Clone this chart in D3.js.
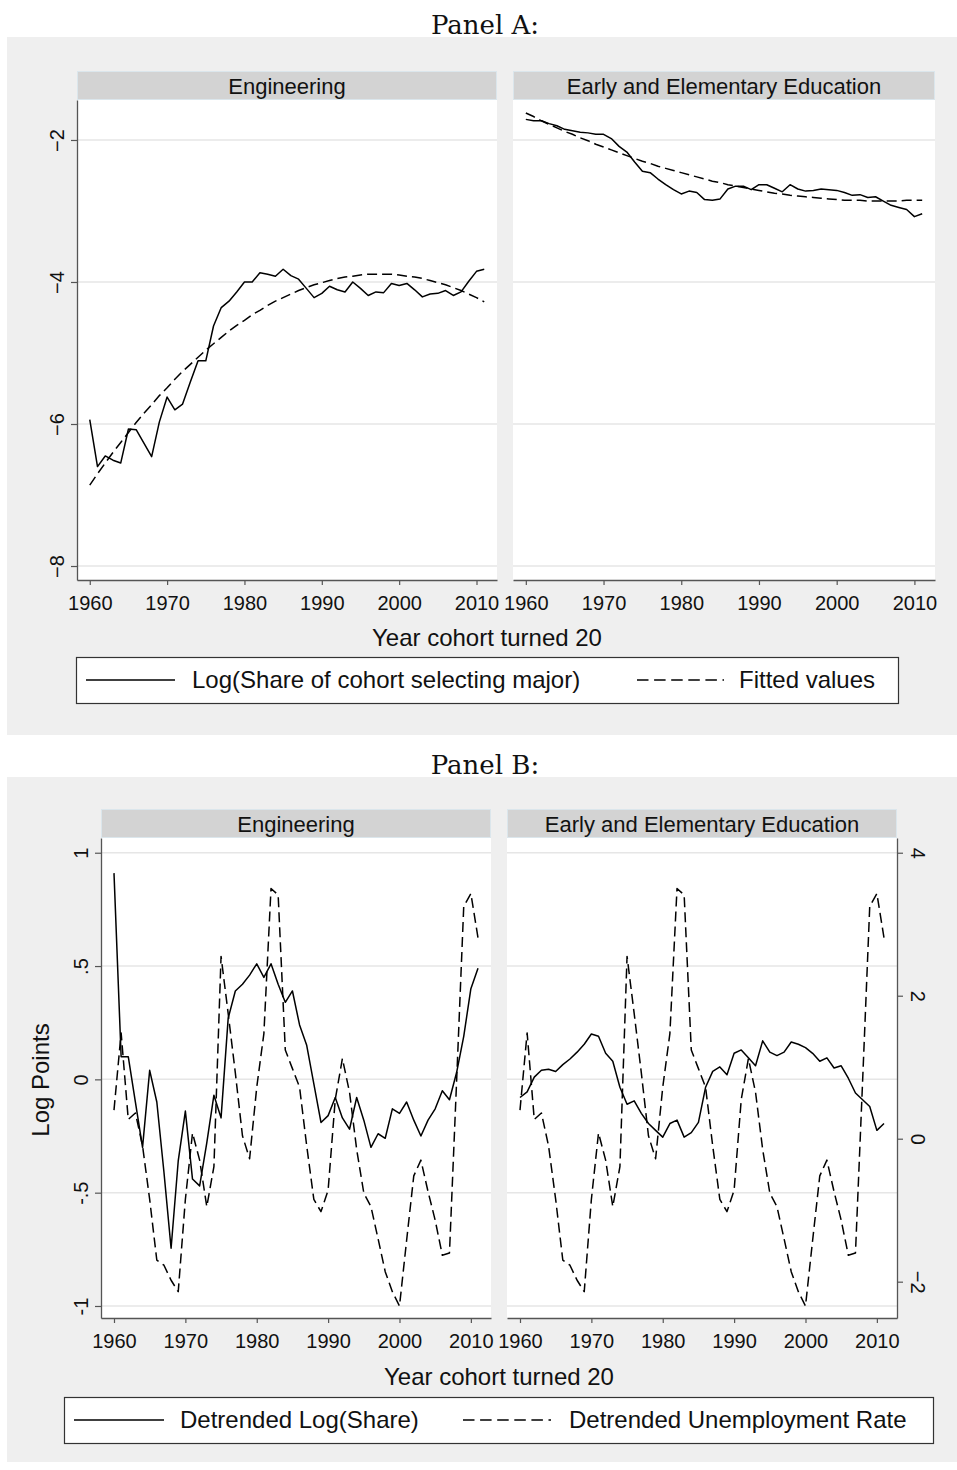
<!DOCTYPE html>
<html>
<head>
<meta charset="utf-8">
<script src="https://cdn.jsdelivr.net/npm/d3@7"></script>
<style>
  body { margin: 0; background: #fff; }
  svg { display: block; }
</style>
</head>
<body>
<div id="chart"></div>
<script>
// ---- data ----
const firstYear = 1960, lastYear = 2011;
const years = d3.range(firstYear, lastYear + 1);

const xTicks = [1960, 1970, 1980, 1990, 2000, 2010];
const yTicksA = [-2, -4, -6, -8];
const yTicksB = [1, 0.5, 0, -0.5, -1];
const yTicksB2 = [4, 2, 0, -2];

// Panel A: log share of cohort selecting major + fitted values
const engLogShare = [
  -5.94, -6.60, -6.45, -6.51, -6.55, -6.07, -6.08, -6.27, -6.46, -5.97,
  -5.62, -5.80, -5.72, -5.41, -5.11, -5.11, -4.62, -4.36, -4.27, -4.14,
  -4.00, -4.00, -3.87, -3.89, -3.92, -3.82, -3.91, -3.96, -4.09, -4.22,
  -4.16, -4.06, -4.11, -4.14, -4.00, -4.09, -4.19, -4.14, -4.15, -4.02,
  -4.05, -4.02, -4.11, -4.21, -4.17, -4.16, -4.12, -4.19, -4.14, -3.99,
  -3.85, -3.82];
const engFitted = [
  -6.86, -6.70, -6.55, -6.40, -6.26, -6.12, -5.98, -5.85, -5.73, -5.60,
  -5.49, -5.37, -5.26, -5.16, -5.06, -4.96, -4.87, -4.78, -4.69, -4.61,
  -4.54, -4.46, -4.40, -4.33, -4.27, -4.22, -4.17, -4.12, -4.08, -4.04,
  -4.01, -3.98, -3.95, -3.93, -3.92, -3.90, -3.89, -3.89, -3.89, -3.89,
  -3.90, -3.92, -3.93, -3.95, -3.98, -4.01, -4.04, -4.08, -4.12, -4.17,
  -4.22, -4.28];
const eduLogShare = [
  -1.71, -1.73, -1.73, -1.77, -1.80, -1.85, -1.87, -1.89, -1.90, -1.92,
  -1.92, -1.98, -2.09, -2.17, -2.31, -2.44, -2.46, -2.55, -2.63, -2.70,
  -2.76, -2.72, -2.74, -2.84, -2.85, -2.83, -2.69, -2.65, -2.65, -2.70,
  -2.63, -2.63, -2.68, -2.73, -2.63, -2.69, -2.72, -2.71, -2.69, -2.70,
  -2.71, -2.74, -2.78, -2.77, -2.81, -2.80, -2.86, -2.92, -2.95, -2.98,
  -3.08, -3.04];
const eduFitted = [
  -1.62, -1.67, -1.73, -1.78, -1.83, -1.88, -1.92, -1.97, -2.01, -2.06,
  -2.10, -2.14, -2.18, -2.22, -2.26, -2.30, -2.33, -2.37, -2.40, -2.43,
  -2.46, -2.49, -2.52, -2.55, -2.58, -2.60, -2.63, -2.65, -2.67, -2.69,
  -2.71, -2.73, -2.75, -2.76, -2.78, -2.79, -2.80, -2.81, -2.82, -2.83,
  -2.84, -2.85, -2.85, -2.85, -2.86, -2.86, -2.86, -2.86, -2.86, -2.85,
  -2.85, -2.85];

// Panel B: detrended log share (left axis) and detrended unemployment (right axis)
const engDetrended = [
  0.91, 0.10, 0.10, -0.10, -0.30, 0.04, -0.10, -0.41, -0.745, -0.36,
  -0.14, -0.44, -0.47, -0.28, -0.07, -0.17, 0.27, 0.39, 0.42, 0.46,
  0.51, 0.45, 0.51, 0.42, 0.34, 0.39, 0.24, 0.15, -0.02, -0.19,
  -0.16, -0.08, -0.17, -0.22, -0.08, -0.18, -0.30, -0.24, -0.26, -0.13,
  -0.15, -0.10, -0.18, -0.25, -0.18, -0.13, -0.05, -0.09, 0.03, 0.19,
  0.40, 0.49];
const eduDetrended = [
  -0.08, -0.055, 0.01, 0.04, 0.045, 0.035, 0.065, 0.09, 0.12, 0.155,
  0.20, 0.19, 0.115, 0.08, -0.035, -0.11, -0.095, -0.15, -0.195, -0.225,
  -0.255, -0.195, -0.18, -0.255, -0.235, -0.19, -0.035, 0.035, 0.055, 0.02,
  0.115, 0.13, 0.095, 0.06, 0.17, 0.12, 0.105, 0.12, 0.165, 0.155,
  0.14, 0.115, 0.08, 0.095, 0.05, 0.06, 0.005, -0.06, -0.09, -0.12,
  -0.225, -0.195];
const unempDetrended = [
  0.40, 1.48, 0.27, 0.36, -0.10, -0.85, -1.70, -1.77, -1.98, -2.14,
  -0.85, 0.08, -0.30, -0.95, -0.39, 2.55, 1.75, 0.92, 0.04, -0.28,
  0.72, 1.47, 3.50, 3.41, 1.24, 0.98, 0.72, -0.10, -0.85, -1.02,
  -0.72, 0.55, 1.12, 0.65, -0.15, -0.76, -0.95, -1.40, -1.86, -2.14,
  -2.34, -1.42, -0.52, -0.30, -0.74, -1.14, -1.63, -1.60, 0.80, 3.25,
  3.43, 2.81];

// ---- layout / style ----
const W = 957, H = 1470;
const SANS = '"Liberation Sans", Arial, Helvetica, sans-serif';
const SERIF = '"DejaVu Serif", "Liberation Serif", serif';
const C = {
  bg: '#efefef',
  strip: '#d3d3d3',
  stripLine: '#dbe6ec',
  grid: '#e6e6e6',
  axis: '#555',
  ink: '#111'
};
const SOLID_W = 1.5;
const DASH = '10,5';

const svg = d3.select('#chart').append('svg')
  .attr('width', W)
  .attr('height', H)
  .style('font-family', SANS);

svg.append('rect').attr('width', W).attr('height', H).attr('fill', '#fff');

// Stata-like ".5" / "-.5" labels
const stataFmt = d => String(d).replace(/^(-?)0\./, '$1.');

function styleAxis(sel) {
  sel.attr('font-size', null).attr('font-family', null);
  sel.select('.domain').attr('stroke', C.axis).attr('stroke-width', 1.3);
  sel.selectAll('.tick line').attr('stroke', C.axis).attr('stroke-width', 1.2);
  sel.selectAll('.tick text').attr('font-size', 20).attr('fill', C.ink);
}

function drawFacet(parent, f) {
  const g = parent.append('g');

  // plot region
  g.append('rect')
    .attr('x', f.x0).attr('y', f.top)
    .attr('width', f.x1 - f.x0).attr('height', f.bottom - f.top)
    .attr('fill', '#fff');

  // strip with facet title
  g.append('rect')
    .attr('x', f.x0 + 0.5).attr('y', f.stripTop + 0.5)
    .attr('width', f.x1 - f.x0 - 1).attr('height', f.top - f.stripTop - 1)
    .attr('fill', C.strip).attr('stroke', C.stripLine);
  g.append('text')
    .attr('x', (f.x0 + f.x1) / 2)
    .attr('y', (f.stripTop + f.top) / 2 + 8)
    .attr('text-anchor', 'middle')
    .attr('font-size', 22)
    .attr('fill', C.ink)
    .text(f.label);

  // gridlines
  g.append('g').selectAll('line')
    .data(f.gridTicks)
    .join('line')
    .attr('x1', f.x0).attr('x2', f.x1)
    .attr('y1', d => f.gridScale(d)).attr('y2', d => f.gridScale(d))
    .attr('stroke', C.grid).attr('stroke-width', 1.5);

  // series
  f.series.forEach(s => {
    const line = d3.line()
      .x((d, i) => f.x(years[i]))
      .y(d => s.y(d));
    g.append('path')
      .datum(s.values)
      .attr('d', line)
      .attr('fill', 'none')
      .attr('stroke', '#000')
      .attr('stroke-width', SOLID_W)
      .attr('stroke-linejoin', 'round')
      .attr('stroke-dasharray', s.dashed ? DASH : null);
  });

  // x axis
  g.append('g')
    .attr('transform', `translate(0,${f.bottom})`)
    .call(d3.axisBottom(f.x).tickValues(xTicks).tickFormat(d3.format('d'))
      .tickSize(5).tickPadding(11).tickSizeOuter(0))
    .call(styleAxis);

  // left y axis (optional)
  if (f.left) {
    const ax = g.append('g')
      .attr('transform', `translate(${f.x0},0)`)
      .call(d3.axisLeft(f.left.scale).tickValues(f.left.ticks).tickFormat(f.left.fmt)
        .tickSize(6).tickSizeOuter(0))
      .call(styleAxis);
    ax.selectAll('.tick text')
      .attr('x', 0).attr('y', 0).attr('dy', 0)
      .attr('text-anchor', 'middle')
      .attr('transform', 'translate(-13,0) rotate(-90)');
  }

  // right y axis (optional)
  if (f.right) {
    const ax = g.append('g')
      .attr('transform', `translate(${f.x1},0)`)
      .call(d3.axisRight(f.right.scale).tickValues(f.right.ticks).tickFormat(f.right.fmt)
        .tickSize(6).tickSizeOuter(0))
      .call(styleAxis);
    ax.selectAll('.tick text')
      .attr('x', 0).attr('y', 0).attr('dy', 0)
      .attr('text-anchor', 'middle')
      .attr('transform', 'translate(14,0) rotate(90)');
  }
  return g;
}

function drawLegend(parent, box, items) {
  const g = parent.append('g');
  g.append('rect')
    .attr('x', box.x0 + 0.5).attr('y', box.y0 + 0.5)
    .attr('width', box.x1 - box.x0).attr('height', box.y1 - box.y0)
    .attr('fill', '#fff').attr('stroke', '#333').attr('stroke-width', 1.2);
  const cy = (box.y0 + box.y1) / 2;
  items.forEach(it => {
    g.append('line')
      .attr('x1', it.lx0).attr('x2', it.lx1)
      .attr('y1', cy).attr('y2', cy)
      .attr('stroke', '#000').attr('stroke-width', SOLID_W)
      .attr('stroke-dasharray', it.dashed ? '11.5,5.6' : null);
    g.append('text')
      .attr('x', it.tx).attr('y', cy + 8)
      .attr('font-size', 24).attr('fill', C.ink)
      .text(it.text);
  });
}

function panelTitle(text, y) {
  svg.append('text')
    .attr('x', 485).attr('y', y)
    .attr('text-anchor', 'middle')
    .attr('font-family', SERIF)
    .attr('font-size', 26)
    .attr('fill', C.ink)
    .text(text);
}

// ================= Panel A =================
panelTitle('Panel A:', 34);
const gA = svg.append('g');
gA.append('rect').attr('x', 7).attr('y', 37).attr('width', W - 7).attr('height', 698).attr('fill', C.bg);

const yA = d3.scaleLinear().domain([-8.197, -1.437]).range([580, 100]);
const xDomA = [1958.35, 2012.65];

drawFacet(gA, {
  x0: 77, x1: 497, top: 100, bottom: 580, stripTop: 71,
  label: 'Engineering',
  x: d3.scaleLinear().domain(xDomA).range([77, 497]),
  gridTicks: yTicksA, gridScale: yA,
  series: [
    { values: engLogShare, y: yA, dashed: false },
    { values: engFitted, y: yA, dashed: true }
  ],
  left: { scale: yA, ticks: yTicksA, fmt: d3.format('d') }
});
drawFacet(gA, {
  x0: 513, x1: 935, top: 100, bottom: 580, stripTop: 71,
  label: 'Early and Elementary Education',
  x: d3.scaleLinear().domain(xDomA).range([513, 935]),
  gridTicks: yTicksA, gridScale: yA,
  series: [
    { values: eduLogShare, y: yA, dashed: false },
    { values: eduFitted, y: yA, dashed: true }
  ]
});

gA.append('text')
  .attr('x', 487).attr('y', 646)
  .attr('text-anchor', 'middle').attr('font-size', 24).attr('fill', C.ink)
  .text('Year cohort turned 20');

drawLegend(gA, { x0: 76, x1: 898, y0: 657, y1: 703 }, [
  { lx0: 86, lx1: 175, tx: 192, text: 'Log(Share of cohort selecting major)', dashed: false },
  { lx0: 637, lx1: 724, tx: 739, text: 'Fitted values', dashed: true }
]);

// ================= Panel B =================
panelTitle('Panel B:', 774);
const gB = svg.append('g');
gB.append('rect').attr('x', 7).attr('y', 777).attr('width', W - 7).attr('height', 685).attr('fill', C.bg);

const yB = d3.scaleLinear().domain([-1.053, 1.065]).range([1318, 838]);
const yB2 = d3.scaleLinear().domain([-2.508, 4.206]).range([1318, 838]);
const xDomB = [1958.18, 2012.82];

drawFacet(gB, {
  x0: 101, x1: 491, top: 838, bottom: 1318, stripTop: 809,
  label: 'Engineering',
  x: d3.scaleLinear().domain(xDomB).range([101, 491]),
  gridTicks: yTicksB, gridScale: yB,
  series: [
    { values: engDetrended, y: yB, dashed: false },
    { values: unempDetrended, y: yB2, dashed: true }
  ],
  left: { scale: yB, ticks: yTicksB, fmt: stataFmt }
});
drawFacet(gB, {
  x0: 507, x1: 897, top: 838, bottom: 1318, stripTop: 809,
  label: 'Early and Elementary Education',
  x: d3.scaleLinear().domain(xDomB).range([507, 897]),
  gridTicks: yTicksB, gridScale: yB,
  series: [
    { values: eduDetrended, y: yB, dashed: false },
    { values: unempDetrended, y: yB2, dashed: true }
  ],
  right: { scale: yB2, ticks: yTicksB2, fmt: d3.format('d') }
});

gB.append('text')
  .attr('text-anchor', 'middle').attr('font-size', 24).attr('fill', C.ink)
  .attr('transform', 'translate(49,1080) rotate(-90)')
  .text('Log Points');

gB.append('text')
  .attr('x', 499).attr('y', 1385)
  .attr('text-anchor', 'middle').attr('font-size', 24).attr('fill', C.ink)
  .text('Year cohort turned 20');

drawLegend(gB, { x0: 64, x1: 933, y0: 1397, y1: 1443 }, [
  { lx0: 74, lx1: 164, tx: 180, text: 'Detrended Log(Share)', dashed: false },
  { lx0: 463, lx1: 551, tx: 569, text: 'Detrended Unemployment Rate', dashed: true }
]);
</script>
</body>
</html>
